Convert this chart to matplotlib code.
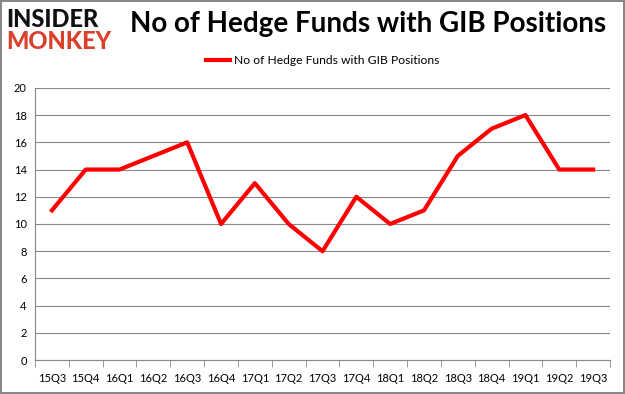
import matplotlib.pyplot as plt

quarters = ["15Q3", "15Q4", "16Q1", "16Q2", "16Q3", "16Q4", "17Q1", "17Q2", "17Q3",
            "17Q4", "18Q1", "18Q2", "18Q3", "18Q4", "19Q1", "19Q2", "19Q3"]
funds = [11, 14, 14, 15, 16, 10, 13, 10, 8, 12, 10, 11, 15, 17, 18, 14, 14]
yticks = list(range(0, 21, 2))

plt.rcParams["font.family"] = ["Lato", "DejaVu Sans"]

fig = plt.figure(figsize=(6.25, 3.94), dpi=100)
fig.patch.set_edgecolor("#888888")
fig.patch.set_linewidth(1.5)

ax = fig.add_axes([0.056, 0.086, 0.92, 0.691])
x = list(range(len(quarters)))
ax.plot(x, funds, color="#ff0000", linewidth=3, label="No of Hedge Funds with GIB Positions")

ax.set_xlim(-0.5, len(quarters) - 0.5)
ax.set_ylim(0, 20)
ax.set_yticks(yticks)
ax.set_xticks(x)
ax.set_xticklabels(quarters)
ax.set_xticks([i - 0.5 for i in range(len(quarters) + 1)], minor=True)
ax.tick_params(axis="x", which="major", length=0, pad=9, labelsize=8)
ax.tick_params(axis="x", which="minor", length=5, color="#888888")
ax.tick_params(axis="y", length=0, pad=6, labelsize=8)
ax.grid(axis="y", color="#888888", linewidth=0.8)
ax.set_axisbelow(True)
for side in ["top", "right"]:
    ax.spines[side].set_visible(False)
for side in ["left", "bottom"]:
    ax.spines[side].set_color("#888888")

ax.legend(loc="lower center", bbox_to_anchor=(0.5, 1.04), frameon=False,
          fontsize=8.7, handlelength=2.0, handletextpad=0.3)

fig.text(0.589, 0.94, "No of Hedge Funds with GIB Positions", ha="center", va="center",
         fontsize=20, fontweight="bold")
fig.text(0.01, 0.95, "INSIDER", ha="left", va="center", fontsize=17,
         fontweight="black", color="#111111")
fig.text(0.01, 0.895, "MONKEY", ha="left", va="center", fontsize=17,
         fontweight="black", color="#d9412b")

fig.savefig("out.png", dpi=100)
